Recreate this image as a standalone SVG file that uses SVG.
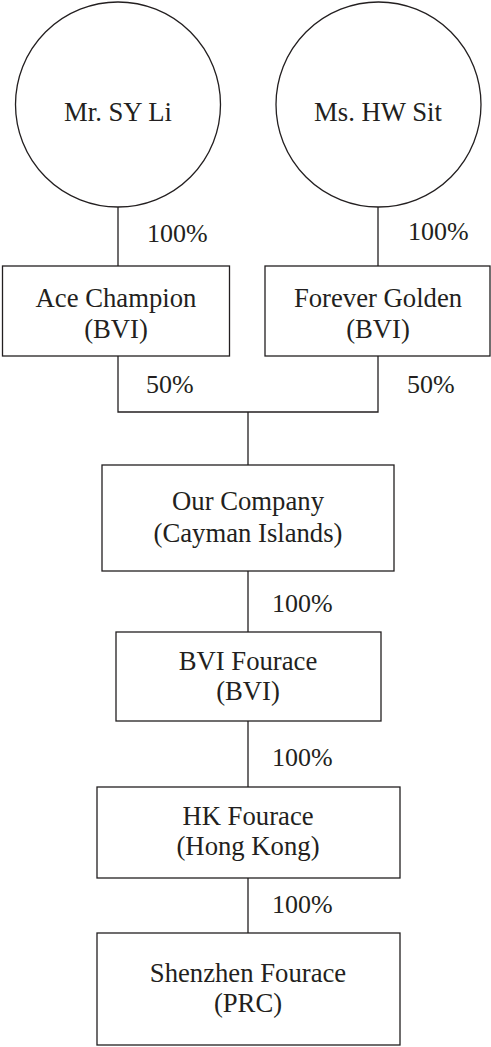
<svg xmlns="http://www.w3.org/2000/svg" width="491" height="1047" viewBox="0 0 491 1047">
<style>
.n{fill:#fff;stroke:#231f20;stroke-width:1.3}
.t{font-family:"Liberation Serif","Times New Roman",serif;font-size:26.7px;fill:#231f20;text-anchor:middle}
.p{font-family:"Liberation Serif","Times New Roman",serif;font-size:26px;fill:#231f20}
.c{fill:none;stroke:#231f20;stroke-width:1.3}
</style>
<rect width="491" height="1047" fill="#fff"/>
<g id="connectors">
<path class="c" d="M118 207V266M378 207V266M118 356V412H378V356M248 412V465M248 571V632M248 721V787M248 878V933"/>
<text class="p" x="147" y="242">100%</text>
<text class="p" x="408" y="240">100%</text>
<text class="p" x="146" y="393">50%</text>
<text class="p" x="407" y="393">50%</text>
<text class="p" x="272" y="612">100%</text>
<text class="p" x="272" y="766">100%</text>
<text class="p" x="272" y="913">100%</text>
</g>
<g id="li"><circle class="n" cx="118" cy="104.5" r="102.5"/><text class="t" x="118" y="121">Mr. SY Li</text></g>
<g id="sit"><circle class="n" cx="378.5" cy="104.5" r="102.5"/><text class="t" x="378" y="121">Ms. HW Sit</text></g>
<g id="ace"><rect class="n" x="2.5" y="266" width="227" height="90"/><text class="t" x="116" y="307">Ace Champion</text><text class="t" x="116" y="338">(BVI)</text></g>
<g id="forever"><rect class="n" x="265" y="266" width="225" height="90"/><text class="t" x="378" y="307">Forever Golden</text><text class="t" x="378" y="338">(BVI)</text></g>
<g id="company"><rect class="n" x="102" y="465" width="292" height="106"/><text class="t" x="248" y="510">Our Company</text><text class="t" x="248" y="542">(Cayman Islands)</text></g>
<g id="bvi"><rect class="n" x="116" y="632" width="265" height="89"/><text class="t" x="248" y="670">BVI Fourace</text><text class="t" x="248" y="700">(BVI)</text></g>
<g id="hk"><rect class="n" x="97" y="787" width="303" height="91"/><text class="t" x="248" y="825">HK Fourace</text><text class="t" x="248" y="855">(Hong Kong)</text></g>
<g id="sz"><rect class="n" x="97" y="933" width="303" height="112"/><text class="t" x="248" y="982">Shenzhen Fourace</text><text class="t" x="248" y="1012">(PRC)</text></g>
</svg>
